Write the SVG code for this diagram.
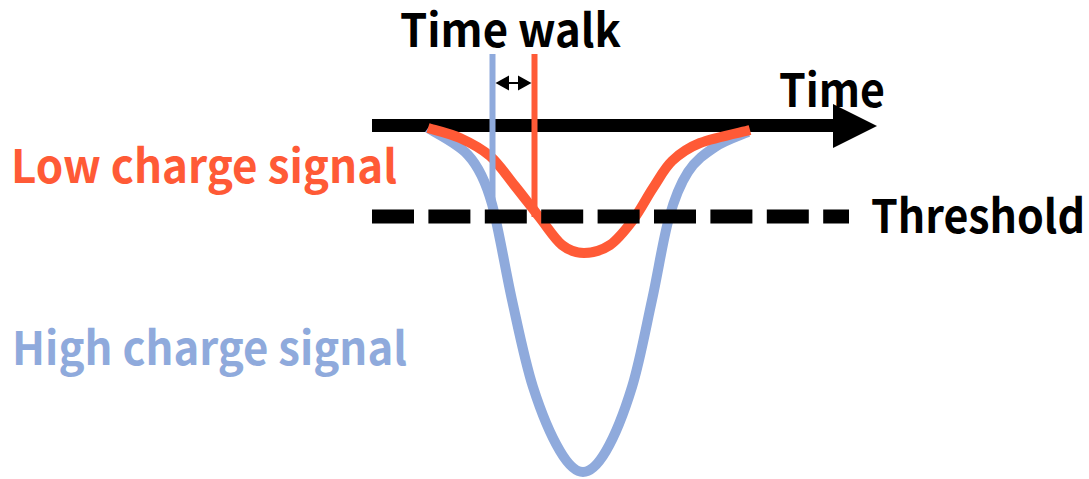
<svg xmlns="http://www.w3.org/2000/svg" width="1089" height="479" viewBox="0 0 1089 479">
<style>
text{font-family:"Noto Sans CJK JP","Noto Sans",sans-serif;font-weight:bold;font-size:46px}
.blk{fill:#000}
.red{fill:#FF5A36}
.blue{fill:#8FAADC}
.curve{fill:none;stroke-width:10;stroke-linecap:butt;stroke-linejoin:round}
</style>
<g id="axis">
<line x1="372" y1="125.5" x2="836" y2="125.5" stroke="#000" stroke-width="13"/>
<polygon points="833,104 877,126 833,148" fill="#000"/>
</g>
<g id="signals">
<path id="high-signal" class="curve" stroke="#8FAADC" d="M428,128 C435,133 457,143 468,155 C479,167 486,182.3 492,204 C499,229.7 505.3,269.8 512,300 C518.7,330.2 525,362 533,387 C541,412 551.7,437 560,451 C568.3,465 575.3,472 583,472 C590.7,472 597.8,465 606,451 C614.2,437 624.3,412 632,387 C639.7,362 645.8,328.2 652,300 C658.2,271.8 663,239.3 669,218 C675,196.7 680.3,183.8 688,172 C695.7,160.2 705,153.7 715,147 C725,140.3 742.5,134.5 748,132"/>
<path id="low-signal" class="curve" stroke="#FF5A36" d="M428,128 C433.3,129.7 449.7,133.3 460,138 C470.3,142.7 480.8,148 490,156 C499.2,164 506.7,175.7 515,186 C523.3,196.3 532.2,208.2 540,218 C547.8,227.8 554.7,239.2 562,245 C569.3,250.8 576,253 584,253 C592,253 601.8,250.5 610,245 C618.2,239.5 625.8,229.5 633,220 C640.2,210.5 646.5,197.8 653,188 C659.5,178.2 664.2,168.5 672,161 C679.8,153.5 687,148.2 700,143 C713,137.8 741.7,132.2 750,130"/>
</g>
<g id="markers">
<line x1="492.5" y1="54" x2="492.5" y2="217" stroke="#8FAADC" stroke-width="6"/>
<line x1="534.5" y1="54" x2="534.5" y2="217" stroke="#FF5A36" stroke-width="6"/>
</g>
<g id="threshold">
<line x1="372" y1="216.5" x2="849" y2="216.5" stroke="#000" stroke-width="14" stroke-dasharray="42 14.4"/>
</g>
<g id="timewalk-arrow">
<line x1="506" y1="83" x2="522" y2="83" stroke="#000" stroke-width="2"/>
<polygon points="495.5,83 509,75.5 509,90.5" fill="#000"/>
<polygon points="531.5,83 518,75.5 518,90.5" fill="#000"/>
</g>
<g id="labels">
<text class="blk" x="400" y="47" textLength="221" lengthAdjust="spacingAndGlyphs">Time walk</text>
<text class="blk" x="779" y="107" textLength="106" lengthAdjust="spacingAndGlyphs">Time</text>
<text class="red" x="11" y="183" textLength="386" lengthAdjust="spacingAndGlyphs">Low charge signal</text>
<text class="blue" x="12" y="365" textLength="395" lengthAdjust="spacingAndGlyphs">High charge signal</text>
<text class="blk" x="871" y="233" textLength="214" lengthAdjust="spacingAndGlyphs">Threshold</text>
</g>
</svg>
